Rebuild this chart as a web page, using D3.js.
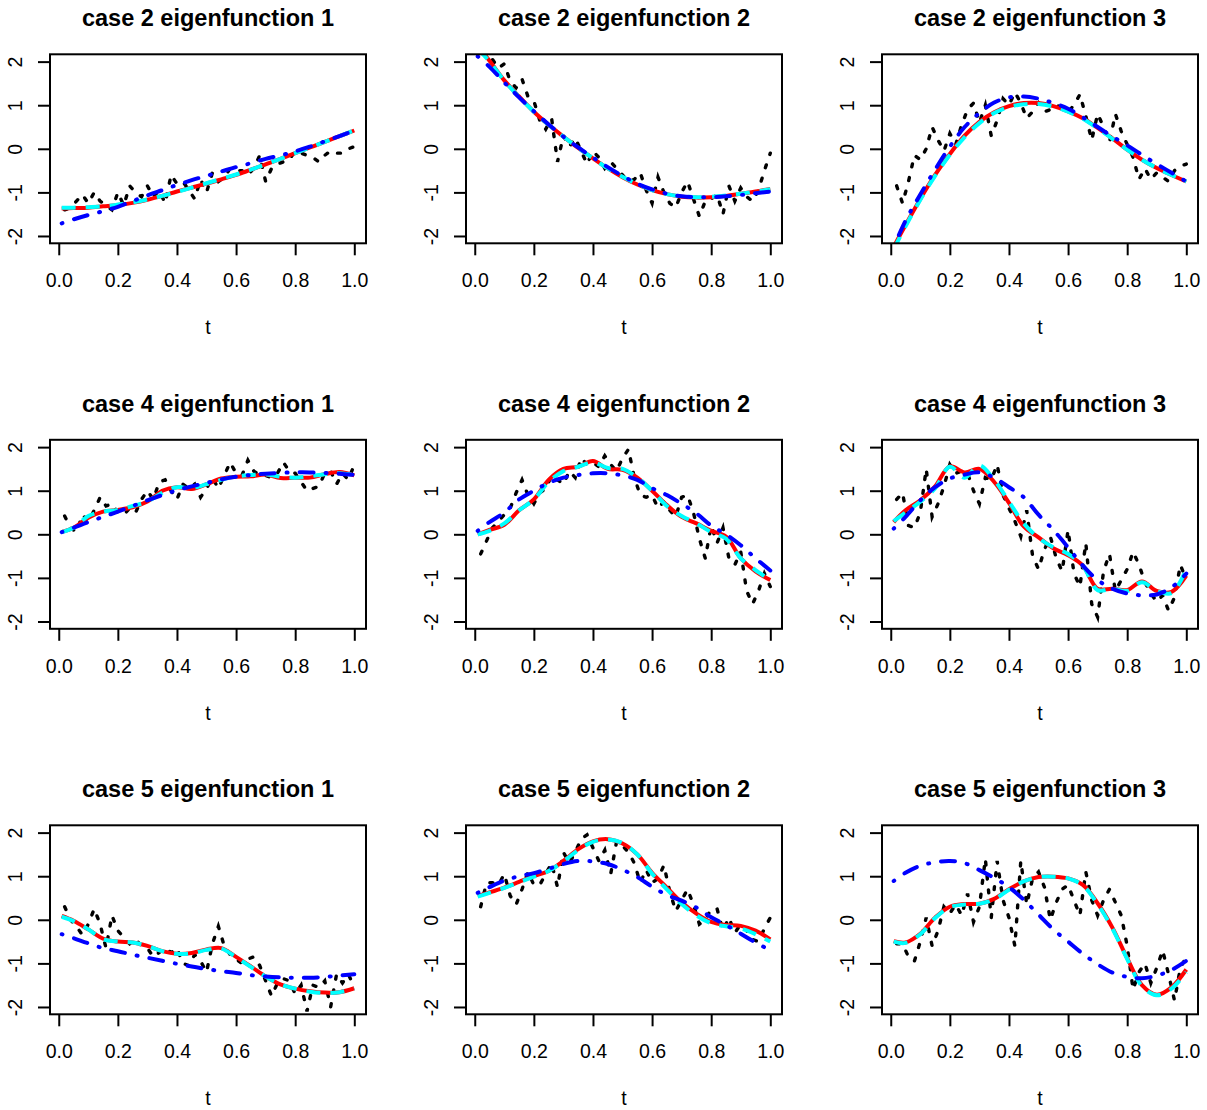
<!DOCTYPE html>
<html>
<head>
<meta charset="utf-8">
<script src="https://cdn.jsdelivr.net/npm/d3@7"></script>
<style>
  body { margin: 0; background: #fff; }
  svg { display: block; font-family: "Liberation Sans", Arial, Helvetica, sans-serif; }
</style>
</head>
<body>
<div id="chart"></div>
<script>
// t grid of the noisy estimate and of the smooth curves.
const tNoisy = [0.02, 0.04, 0.06, 0.08, 0.10, 0.12, 0.14, 0.16, 0.18, 0.20,
                0.22, 0.24, 0.26, 0.28, 0.30, 0.32, 0.34, 0.36, 0.38, 0.40,
                0.42, 0.44, 0.46, 0.48, 0.50, 0.52, 0.54, 0.56, 0.58, 0.60,
                0.62, 0.64, 0.66, 0.68, 0.70, 0.72, 0.74, 0.76, 0.78, 0.80,
                0.82, 0.84, 0.86, 0.88, 0.90, 0.92, 0.94, 0.96, 0.98, 1.00];
const tSmooth = [0.01, 0.05, 0.10, 0.15, 0.20, 0.25, 0.30, 0.35, 0.40, 0.45, 0.50,
                 0.55, 0.60, 0.65, 0.70, 0.75, 0.80, 0.85, 0.90, 0.95, 1.00];

const xTicks = [0, 0.2, 0.4, 0.6, 0.8, 1.0];
const yTicks = [-2, -1, 0, 1, 2];

// case 2
const dots_c2e1 = [-1.4, -1.35, -1.2, -1.05, -1.25, -1.0, -1.2, -1.3, -1.4, -1.0,
                   -1.3, -0.85, -1.0, -1.1, -0.85, -1.1, -0.95, -1.25, -0.6, -0.8,
                   -0.75, -0.95, -1.15, -0.7, -1.0, -0.55, -0.75, -0.65, -0.45, -0.5,
                   -0.5, -0.6, -0.45, -0.15, -0.75, -0.45, -0.35, -0.3, -0.25, -0.05,
                   -0.1, -0.15, -0.2, -0.3, -0.15, -0.05, -0.1, -0.1, 0.0, 0.05];
const red_c2e1 = [-1.37, -1.36, -1.35, -1.32, -1.29, -1.24, -1.17, -1.08, -0.98, -0.89, -0.8,
                  -0.7, -0.6, -0.48, -0.36, -0.23, -0.1, 0.03, 0.16, 0.29, 0.42];
const cyan_c2e1 = [-1.35, -1.35, -1.34, -1.32, -1.28, -1.23, -1.16, -1.08, -0.99, -0.89, -0.79,
                   -0.69, -0.59, -0.48, -0.36, -0.23, -0.1, 0.03, 0.16, 0.29, 0.43];
const blue_c2e1 = [-1.71, -1.62, -1.52, -1.43, -1.33, -1.2, -1.07, -0.95, -0.83, -0.72, -0.62,
                   -0.52, -0.42, -0.33, -0.23, -0.15, -0.06, 0.05, 0.17, 0.29, 0.42];

const dots_c2e2 = [2.2, 2.15, 2.05, 1.85, 1.95, 1.55, 1.4, 1.6, 1.2, 1.1,
                   0.65, 0.45, 0.7, -0.3, 0.3, 0.05, 0.25, -0.05, -0.35, -0.05,
                   -0.2, -0.45, -0.3, -0.45, -0.6, -0.75, -0.7, -0.55, -0.95, -1.25,
                   -0.65, -1.0, -1.25, -1.35, -1.0, -0.75, -1.15, -1.55, -1.2, -1.15,
                   -1.05, -1.5, -0.85, -1.2, -0.9, -1.1, -1.2, -0.95, -0.5, -0.1];
const red_c2e2 = [2.35, 2.02, 1.57, 1.2, 0.85, 0.55, 0.28, 0.02, -0.22, -0.45, -0.65,
                  -0.82, -0.95, -1.04, -1.1, -1.12, -1.11, -1.08, -1.03, -0.98, -0.92];
const cyan_c2e2 = [2.3, 2.0, 1.56, 1.19, 0.85, 0.55, 0.28, 0.02, -0.22, -0.45, -0.64,
                   -0.81, -0.95, -1.04, -1.09, -1.11, -1.1, -1.07, -1.03, -0.98, -0.93];
const blue_c2e2 = [2.12, 1.88, 1.52, 1.18, 0.86, 0.56, 0.28, 0.03, -0.2, -0.42, -0.62,
                   -0.8, -0.93, -1.03, -1.09, -1.11, -1.11, -1.09, -1.06, -1.02, -0.98];

const dots_c2e3 = [-0.85, -1.25, -0.75, -0.15, -0.25, 0.0, 0.5, 0.2, -0.05, 0.35,
                   0.1, 0.55, 0.9, 1.05, 0.6, 1.0, 0.3, 0.65, 1.15, 1.0,
                   1.3, 1.05, 0.7, 0.85, 1.05, 0.85, 0.9, 1.0, 0.95, 0.85,
                   1.0, 1.25, 0.75, 0.2, 0.8, 0.5, 0.15, 0.8, 0.4, 0.1,
                   -0.2, -0.7, -0.45, -0.7, -0.55, -0.65, -0.75, -0.5, -0.4, -0.35];
const red_c2e3 = [-2.25, -1.75, -1.15, -0.6, -0.12, 0.3, 0.62, 0.84, 0.98, 1.05, 1.05,
                  0.98, 0.86, 0.7, 0.48, 0.24, -0.02, -0.25, -0.44, -0.6, -0.75];
const cyan_c2e3 = [-2.3, -1.78, -1.17, -0.62, -0.14, 0.27, 0.59, 0.82, 0.96, 1.02, 1.03,
                   0.97, 0.85, 0.69, 0.47, 0.23, -0.02, -0.25, -0.44, -0.6, -0.75];
const blue_c2e3 = [-2.25, -1.65, -1.05, -0.48, 0.05, 0.5, 0.82, 1.06, 1.18, 1.2, 1.15,
                   1.05, 0.92, 0.72, 0.5, 0.28, 0.08, -0.14, -0.35, -0.55, -0.75];

// case 4
const dots_c4e1 = [0.42, 0.15, 0.05, 0.45, 0.3, 0.55, 0.85, 0.65, 0.7, 0.5,
                   0.45, 0.6, 0.5, 0.8, 1.0, 0.8, 1.2, 1.25, 1.0, 0.8,
                   1.15, 1.05, 1.15, 0.85, 1.05, 1.3, 1.05, 1.35, 1.65, 1.4,
                   1.35, 1.7, 1.45, 1.35, 1.35, 1.3, 1.4, 1.65, 1.45, 1.4,
                   1.2, 1.0, 1.05, 1.1, 1.4, 1.45, 1.15, 1.4, 1.25, 1.6];
const red_c4e1 = [0.05, 0.15, 0.38, 0.52, 0.56, 0.62, 0.75, 1.0, 1.08, 1.04, 1.15,
                  1.28, 1.32, 1.33, 1.37, 1.29, 1.3, 1.3, 1.38, 1.43, 1.35];
const cyan_c4e1 = [0.05, 0.15, 0.42, 0.52, 0.56, 0.65, 0.75, 0.95, 1.08, 1.06, 1.15,
                   1.25, 1.33, 1.36, 1.38, 1.32, 1.3, 1.33, 1.38, 1.4, 1.36];
const blue_c4e1 = [0.05, 0.15, 0.28, 0.4, 0.52, 0.65, 0.78, 0.9, 1.01, 1.1, 1.18,
                   1.26, 1.32, 1.36, 1.39, 1.41, 1.42, 1.42, 1.41, 1.39, 1.36];

const dots_c4e2 = [-0.45, -0.15, 0.15, 0.3, 0.45, 0.6, 0.95, 1.25, 0.9, 0.7,
                   0.95, 1.05, 1.35, 1.25, 1.15, 1.45, 1.3, 1.75, 1.6, 1.65,
                   1.55, 1.8, 1.6, 1.45, 1.75, 1.95, 1.3, 0.9, 0.85, 0.9,
                   0.6, 0.75, 0.55, 0.4, 0.85, 0.9, 0.5, -0.1, -0.55, 0.2,
                   -0.2, 0.15, -0.55, -0.7, -0.4, -1.3, -1.6, -1.3, -0.9, -1.2];
const red_c4e2 = [0.0, 0.1, 0.22, 0.55, 0.8, 1.25, 1.5, 1.55, 1.68, 1.5, 1.48,
                  1.3, 1.0, 0.67, 0.4, 0.25, 0.08, -0.05, -0.55, -0.85, -1.05];
const cyan_c4e2 = [0.0, 0.08, 0.25, 0.55, 0.8, 1.2, 1.45, 1.55, 1.65, 1.52, 1.5,
                   1.3, 1.0, 0.65, 0.42, 0.25, 0.05, -0.1, -0.55, -0.82, -1.05];
const blue_c4e2 = [0.08, 0.28, 0.5, 0.8, 1.0, 1.18, 1.3, 1.36, 1.4, 1.4, 1.35,
                   1.25, 1.06, 0.9, 0.7, 0.48, 0.2, 0.0, -0.25, -0.55, -0.83];

const dots_c4e3 = [0.8, 0.95, 0.2, 0.15, 0.5, 1.5, 0.4, 0.7, 1.1, 1.6,
                   1.4, 1.45, 1.4, 1.0, 0.7, 1.3, 1.25, 1.6, 0.9, 0.6,
                   0.3, -0.05, 0.55, -0.5, -0.8, -0.35, -0.05, -0.55, -0.85, 0.1,
                   -0.9, -1.2, -0.2, -1.6, -1.9, -0.85, -0.45, -1.3, -1.05, -0.8,
                   -0.4, -0.7, -1.1, -1.35, -1.55, -1.4, -1.75, -1.45, -0.7, -1.05];
const red_c4e3 = [0.28, 0.55, 0.78, 1.1, 1.56, 1.42, 1.5, 1.2, 0.72, 0.18, -0.07,
                  -0.32, -0.48, -0.72, -1.25, -1.25, -1.28, -1.08, -1.3, -1.32, -0.95];
const cyan_c4e3 = [0.3, 0.5, 0.75, 1.05, 1.55, 1.3, 1.58, 1.25, 0.75, 0.25, -0.08,
                   -0.3, -0.45, -0.72, -1.28, -1.25, -1.3, -1.1, -1.3, -1.35, -0.8];
const blue_c4e3 = [0.13, 0.4, 0.78, 1.08, 1.28, 1.37, 1.42, 1.3, 1.08, 0.85, 0.45,
                   0.1, -0.3, -0.72, -1.05, -1.25, -1.36, -1.4, -1.38, -1.22, -0.9];

// case 5
const dots_c5e1 = [0.3, 0.0, -0.15, -0.35, -0.1, 0.25, -0.1, -0.65, 0.1, -0.25,
                   -0.4, -0.55, -0.45, -0.6, -0.65, -0.85, -0.75, -0.65, -0.75, -0.65,
                   -1.0, -1.05, -0.8, -0.95, -1.2, -0.55, -0.15, -0.6, -0.8, -0.9,
                   -1.0, -0.9, -0.85, -1.05, -1.4, -1.75, -1.45, -1.35, -1.4, -1.7,
                   -1.5, -2.1, -1.5, -1.55, -1.4, -2.0, -1.25, -1.45, -1.25, -1.55];
const red_c5e1 = [0.09, -0.02, -0.22, -0.43, -0.5, -0.52, -0.6, -0.72, -0.78, -0.76, -0.68,
                  -0.65, -0.85, -1.07, -1.3, -1.48, -1.58, -1.64, -1.67, -1.66, -1.57];
const cyan_c5e1 = [0.07, -0.03, -0.22, -0.44, -0.5, -0.52, -0.6, -0.72, -0.78, -0.77, -0.69,
                   -0.66, -0.86, -1.08, -1.3, -1.48, -1.58, -1.65, -1.68, -1.66, -1.58];
const blue_c5e1 = [-0.33, -0.42, -0.54, -0.65, -0.72, -0.8, -0.87, -0.94, -1.01, -1.07, -1.13,
                   -1.18, -1.22, -1.27, -1.3, -1.32, -1.33, -1.33, -1.31, -1.28, -1.25];

const dots_c5e2 = [0.3, 0.85, 0.85, 0.8, 1.05, 0.55, 0.35, 0.7, 1.1, 0.8,
                   0.8, 1.05, 1.3, 0.75, 1.55, 1.3, 1.55, 1.85, 1.95, 1.65,
                   1.35, 1.6, 1.05, 1.8, 1.7, 1.55, 1.3, 0.85, 1.15, 0.85,
                   0.95, 1.25, 0.65, 0.2, 0.45, 0.7, 0.35, -0.1, 0.0, 0.25,
                   0.25, -0.25, 0.05, -0.3, -0.1, -0.25, -0.45, -0.5, -0.2, 0.05];
const red_c5e2 = [0.55, 0.63, 0.74, 0.87, 1.0, 1.12, 1.35, 1.62, 1.8, 1.85, 1.75,
                  1.5, 1.08, 0.74, 0.4, 0.14, -0.05, -0.12, -0.14, -0.25, -0.45];
const cyan_c5e2 = [0.53, 0.62, 0.73, 0.86, 0.99, 1.12, 1.34, 1.6, 1.79, 1.84, 1.76,
                   1.5, 1.06, 0.7, 0.36, 0.1, -0.08, -0.15, -0.2, -0.33, -0.5];
const blue_c5e2 = [0.62, 0.75, 0.9, 1.0, 1.07, 1.17, 1.28, 1.35, 1.34, 1.28, 1.15,
                   0.98, 0.76, 0.57, 0.44, 0.28, 0.06, -0.12, -0.32, -0.52, -0.7];

const dots_c5e3 = [-0.55, -0.55, -0.85, -0.95, -0.5, 0.05, -0.6, -0.25, 0.3, 0.15,
                   0.35, 0.1, 0.6, -0.05, 0.3, 1.4, 0.05, 1.35, 0.45, 0.05,
                   -0.6, 1.35, 0.35, 0.95, 1.1, 0.75, 0.0, 0.4, 0.7, 0.8,
                   0.45, 0.1, 1.1, 0.45, 0.1, 0.45, 0.7, 0.4, 0.1, -0.6,
                   -1.6, -1.2, -1.0, -1.45, -1.1, -0.7, -1.25, -1.85, -1.1, -0.85];
const red_c5e3 = [-0.49, -0.52, -0.32, 0.05, 0.3, 0.36, 0.37, 0.48, 0.7, 0.88, 0.98,
                  0.99, 0.95, 0.8, 0.38, -0.18, -0.88, -1.5, -1.72, -1.55, -1.14];
const cyan_c5e3 = [-0.5, -0.53, -0.33, 0.04, 0.29, 0.35, 0.37, 0.47, 0.69, 0.88, 0.98,
                   0.99, 0.95, 0.79, 0.36, -0.2, -0.9, -1.52, -1.73, -1.58, -1.2];
const blue_c5e3 = [0.89, 1.08, 1.24, 1.32, 1.35, 1.3, 1.14, 0.96, 0.75, 0.46, 0.12,
                   -0.22, -0.5, -0.78, -1.02, -1.21, -1.31, -1.34, -1.28, -1.15, -0.94];

const panels = [
    {title: 'case 2 eigenfunction 1', dots: dots_c2e1, red: red_c2e1, cyan: cyan_c2e1, blue: blue_c2e1},
    {title: 'case 2 eigenfunction 2', dots: dots_c2e2, red: red_c2e2, cyan: cyan_c2e2, blue: blue_c2e2},
    {title: 'case 2 eigenfunction 3', dots: dots_c2e3, red: red_c2e3, cyan: cyan_c2e3, blue: blue_c2e3},
    {title: 'case 4 eigenfunction 1', dots: dots_c4e1, red: red_c4e1, cyan: cyan_c4e1, blue: blue_c4e1},
    {title: 'case 4 eigenfunction 2', dots: dots_c4e2, red: red_c4e2, cyan: cyan_c4e2, blue: blue_c4e2},
    {title: 'case 4 eigenfunction 3', dots: dots_c4e3, red: red_c4e3, cyan: cyan_c4e3, blue: blue_c4e3},
    {title: 'case 5 eigenfunction 1', dots: dots_c5e1, red: red_c5e1, cyan: cyan_c5e1, blue: blue_c5e1},
    {title: 'case 5 eigenfunction 2', dots: dots_c5e2, red: red_c5e2, cyan: cyan_c5e2, blue: blue_c5e2},
    {title: 'case 5 eigenfunction 3', dots: dots_c5e3, red: red_c5e3, cyan: cyan_c5e3, blue: blue_c5e3}
];

// Page and panel geometry.
const W = 1207, H = 1110;
const plotW = 316, plotH = 189;
const colStep = 416, rowStep = 385.5;
const left0 = 50, top0 = 54.3;
const fontFamily = '"Liberation Sans", Arial, Helvetica, sans-serif';

const svg = d3.select('#chart')
    .append('svg')
        .attr('width', W)
        .attr('height', H);

// Same scales for every panel (R: xlim from data + 4%, ylim c(-2, 2) + 4%).
const x = d3.scaleLinear().domain([-0.0296, 1.0396]).range([0, plotW]);
const y = d3.scaleLinear().domain([-2.168, 2.168]).range([plotH, 0]);

const lineNoisy = d3.line()
    .x((d, i) => x(tNoisy[i]))
    .y(d => y(d));
const lineSmooth = d3.line()
    .x((d, i) => x(tSmooth[i]))
    .y(d => y(d))
    .curve(d3.curveCatmullRom.alpha(0.5));

svg.append('defs')
    .append('clipPath')
        .attr('id', 'plotclip')
    .append('rect')
        .attr('width', plotW)
        .attr('height', plotH);

panels.forEach((p, k) => {
    const col = k % 3, row = Math.floor(k / 3);
    const g = svg.append('g')
        .attr('transform', `translate(${left0 + col * colStep},${top0 + row * rowStep})`);

    // Title.
    g.append('text')
        .attr('x', plotW / 2)
        .attr('y', -28)
        .attr('text-anchor', 'middle')
        .style('font-size', '23.5px')
        .style('font-weight', 'bold')
        .text(p.title);

    // Curves, clipped to the plot region.
    const lines = g.append('g').attr('clip-path', 'url(#plotclip)');
    lines.append('path')
        .attr('d', lineNoisy(p.dots))
        .attr('fill', 'none')
        .attr('stroke', 'black')
        .attr('stroke-width', 3.4)
        .attr('stroke-linecap', 'round')
        .attr('stroke-dasharray', '3,11');
    lines.append('path')
        .attr('d', lineSmooth(p.red))
        .attr('fill', 'none')
        .attr('stroke', '#ff0000')
        .attr('stroke-width', 4);
    lines.append('path')
        .attr('d', lineSmooth(p.cyan))
        .attr('fill', 'none')
        .attr('stroke', '#00ffff')
        .attr('stroke-width', 4)
        .attr('stroke-dasharray', '14,10');
    lines.append('path')
        .attr('d', lineSmooth(p.blue))
        .attr('fill', 'none')
        .attr('stroke', '#0000ff')
        .attr('stroke-width', 4)
        .attr('stroke-linecap', 'round')
        .attr('stroke-dasharray', '1,12,14,12');

    // X axis.
    const xAxis = g.append('g')
        .attr('transform', `translate(0,${plotH})`)
        .call(d3.axisBottom(x).tickValues(xTicks).tickSize(12).tickFormat(d3.format('.1f')));
    xAxis.select('.domain').remove();
    xAxis.selectAll('line').attr('stroke', 'black').attr('stroke-width', 2);
    xAxis.selectAll('text')
        .attr('y', 44)
        .attr('dy', 0)
        .attr('fill', 'black')
        .style('font-size', '19.5px')
        .style('font-family', fontFamily);

    // Y axis with labels parallel to the axis (plain hyphen for minus, as in R).
    const yAxis = g.append('g')
        .call(d3.axisLeft(y).tickValues(yTicks).tickSize(12).tickFormat(d => String(d)));
    yAxis.select('.domain').remove();
    yAxis.selectAll('line').attr('stroke', 'black').attr('stroke-width', 2);
    yAxis.selectAll('text')
        .attr('x', 0)
        .attr('dy', 0)
        .attr('text-anchor', 'middle')
        .attr('transform', 'translate(-28,0) rotate(-90)')
        .attr('fill', 'black')
        .style('font-size', '19.5px')
        .style('font-family', fontFamily);

    // Box.
    g.append('rect')
        .attr('width', plotW)
        .attr('height', plotH)
        .attr('fill', 'none')
        .attr('stroke', 'black')
        .attr('stroke-width', 2);

    // Axis title.
    g.append('text')
        .attr('x', plotW / 2)
        .attr('y', plotH + 91)
        .attr('text-anchor', 'middle')
        .style('font-size', '19.5px')
        .text('t');
});
</script>
</body>
</html>
